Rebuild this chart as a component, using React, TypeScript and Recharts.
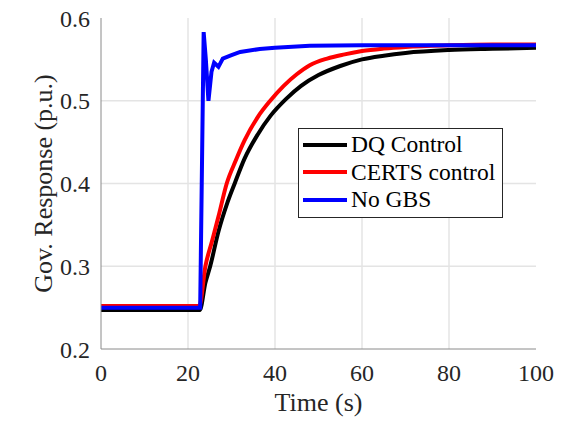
import { LineChart, Line, XAxis, YAxis, ReferenceLine } from "recharts"

const xTicks = [0, 20, 40, 60, 80, 100]
const yTicks = [0.2, 0.3, 0.4, 0.5, 0.6]

const blackTime = [0, 22.7, 24, 25.1, 27, 29, 30.8, 33, 36, 39, 42.5, 46, 50, 55, 60, 65, 70, 80, 90, 100]
const blackValue = [0.247, 0.247, 0.28, 0.3, 0.342, 0.376, 0.401, 0.43, 0.459, 0.482, 0.502, 0.518, 0.531, 0.542, 0.55, 0.5545, 0.5578, 0.5613, 0.5628, 0.564]

const redTime = [0, 22.6, 24, 25.5, 27, 28.9, 31, 33, 36, 38.9, 42, 45, 48, 52, 56, 60, 65, 70, 80, 90, 100]
const redValue = [0.252, 0.252, 0.3, 0.33, 0.36, 0.4, 0.428, 0.452, 0.48, 0.5, 0.518, 0.532, 0.543, 0.551, 0.556, 0.56, 0.563, 0.565, 0.567, 0.568, 0.568]

const blueTime = [0, 22.8, 23.6, 24.1, 24.7, 25.4, 26, 27, 28, 30, 32, 36.5, 40, 48, 60, 100]
const blueValue = [0.25, 0.25, 0.583, 0.55, 0.5, 0.535, 0.546, 0.541, 0.551, 0.555, 0.559, 0.5625, 0.564, 0.5665, 0.567, 0.567]

const series = [
  { name: "DQ Control", color: "#000000", time: blackTime, value: blackValue, type: "monotone" },
  { name: "CERTS control", color: "#ff0000", time: redTime, value: redValue, type: "monotone" },
  { name: "No GBS", color: "#0000ff", time: blueTime, value: blueValue, type: "linear" },
]

const font = '"Liberation Serif", "Times New Roman", serif'
const axisColor = "#8a8a8a"
const gridColor = "#e4e4e4"
const textColor = "#262626"

function XLabel(props: any) {
  const vb = props.viewBox
  return (
    <text x={vb.x + vb.width / 2} y={vb.y + 62} textAnchor="middle" fill={textColor} fontSize={26} fontFamily={font}>
      Time (s)
    </text>
  )
}

function YLabel(props: any) {
  const vb = props.viewBox
  const x = vb.x + vb.width - 58
  const y = vb.y + vb.height / 2
  return (
    <text x={x} y={y} transform={`rotate(-90 ${x} ${y})`} textAnchor="middle" dominantBaseline="central" fill={textColor} fontSize={26} fontFamily={font}>
      Gov. Response (p.u.)
    </text>
  )
}

function LegendBox() {
  return (
    <div
      style={{
        position: "absolute",
        left: 298,
        top: 128,
        border: "1px solid #262626",
        background: "#fff",
        width: 205,
        height: 90,
        boxSizing: "border-box",
        padding: "2px 0 0 4px",
        fontSize: 23.5,
        fontFamily: font,
        color: "#000",
        whiteSpace: "nowrap",
      }}
    >
      {series.map((s) => (
        <div key={s.name} style={{ display: "flex", alignItems: "center", height: 27.5 }}>
          <div style={{ width: 44, height: 4, background: s.color, marginRight: 4 }} />
          <span>{s.name}</span>
        </div>
      ))}
    </div>
  )
}

export default function App() {
  return (
    <div style={{ position: "absolute", left: 0, top: 0, width: 564, height: 426, background: "#fff", fontFamily: font }}>
      <LineChart width={564} height={426} margin={{ top: 18, right: 28, bottom: 47, left: 41 }}>
        <XAxis
          xAxisId="b"
          type="number"
          dataKey="t"
          domain={[0, 100]}
          ticks={xTicks}
          height={30}
          stroke={axisColor}
          tickLine={false}
          tickMargin={9}
          tick={{ fill: textColor, fontSize: 24, fontFamily: font }}
          label={<XLabel />}
        />
        <XAxis xAxisId="t" orientation="top" type="number" dataKey="t" domain={[0, 100]} ticks={xTicks} height={0} stroke={axisColor} tick={false} tickLine={false} />
        <YAxis
          yAxisId="l"
          type="number"
          domain={[0.2, 0.6]}
          ticks={yTicks}
          width={60}
          stroke={axisColor}
          tickLine={false}
          tickMargin={5}
          tickFormatter={(v: number) => v.toFixed(1)}
          tick={{ fill: textColor, fontSize: 24, fontFamily: font }}
          label={<YLabel />}
        />
        <YAxis yAxisId="r" orientation="right" type="number" domain={[0.2, 0.6]} ticks={yTicks} width={0} stroke={axisColor} tick={false} tickLine={false} />
        {xTicks.slice(1, -1).map((t) => (
          <ReferenceLine key={"gx" + t} x={t} xAxisId="b" yAxisId="l" stroke={gridColor} strokeWidth={1.5} />
        ))}
        {yTicks.slice(1, -1).map((v) => (
          <ReferenceLine key={"gy" + v} y={v} xAxisId="b" yAxisId="l" stroke={gridColor} strokeWidth={1.5} />
        ))}
        {series.map((s) => (
          <Line
            key={s.name}
            xAxisId="b"
            yAxisId="l"
            data={s.time.map((t, i) => ({ t, v: s.value[i] }))}
            dataKey="v"
            name={s.name}
            type={s.type as "monotone" | "linear"}
            stroke={s.color}
            strokeWidth={4}
            dot={false}
            isAnimationActive={false}
          />
        ))}
      </LineChart>
      <LegendBox />
    </div>
  )
}
